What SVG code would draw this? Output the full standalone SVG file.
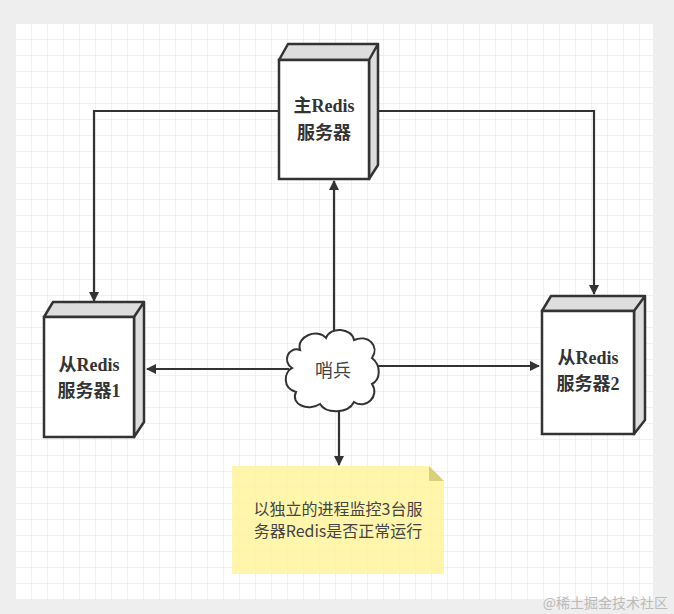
<svg xmlns="http://www.w3.org/2000/svg" width="674" height="614" viewBox="0 0 674 614">
<defs>
<pattern id="g" x="16" y="24" width="16" height="16" patternUnits="userSpaceOnUse">
<path d="M16 0V16M0 16H16" fill="none" stroke="#e2e2e2" stroke-width="1"/>
</pattern>
<marker id="a" viewBox="0 0 10 10" refX="9" refY="5" markerWidth="10" markerHeight="10" orient="auto" markerUnits="userSpaceOnUse">
<path d="M0 0L10 5L0 10z" fill="#333"/>
</marker>
</defs>
<style>
.face{fill:#fff;stroke:#333;stroke-width:2.5}
.side{fill:#ddd;stroke:#333;stroke-width:2.5;stroke-linejoin:round}
.lbl{font-family:"Liberation Serif","Noto Sans CJK SC",serif;font-weight:bold;font-size:18px;fill:#333;text-anchor:middle}
.c{fill:none;stroke:#333;stroke-width:2.2;marker-end:url(#a)}
.nt{font-family:"Noto Sans CJK SC",sans-serif;font-size:16px;fill:#444;text-anchor:middle}
</style>
<rect width="674" height="614" fill="#eeeeee"/>
<rect x="16" y="24" width="637" height="576" fill="#fff"/>
<rect x="16" y="24" width="637" height="576" fill="url(#g)"/>
<g id="connectors">
<path class="c" d="M279 111H94V301"/>
<path class="c" d="M369 111H594V294"/>
<path class="c" d="M334 330V181"/>
<path class="c" d="M289 369H147"/>
<path class="c" d="M377 366H539"/>
<path class="c" d="M339 409V465"/>
</g>
<g id="master">
<path class="side" d="M279 60L288 44H378L369 60ZM369 60L378 44V165L369 179Z"/>
<rect class="face" x="279" y="60" width="90" height="119"/>
<text class="lbl" x="324" y="112">主Redis</text>
<text class="lbl" x="324" y="139">服务器</text>
</g>
<g id="slave1">
<path class="side" d="M44 317L53 302H144L134 317ZM134 317L144 302V422L134 437Z"/>
<rect class="face" x="44" y="317" width="90" height="120"/>
<text class="lbl" x="89" y="371">从Redis</text>
<text class="lbl" x="89" y="397">服务器1</text>
</g>
<g id="slave2">
<path class="side" d="M542 311L551 296H645L634 311ZM634 311L645 296V420L634 434Z"/>
<rect class="face" x="542" y="311" width="92" height="123"/>
<text class="lbl" x="588" y="364">从Redis</text>
<text class="lbl" x="588" y="390">服务器2</text>
</g>
<g id="sentinel">
<path d="M300 350C296 336 318 328 326 338C330 326 352 328 354 340C368 334 380 346 372 358C382 366 380 380 372 384C380 396 366 410 354 402C348 414 326 414 320 404C308 412 290 404 296 392C282 388 284 372 292 368C282 362 288 346 300 350Z" fill="#fff" stroke="#333" stroke-width="2"/>
<text x="333" y="377" font-family="Noto Sans CJK SC,sans-serif" font-size="18" fill="#444" text-anchor="middle">哨兵</text>
</g>
<g id="note">
<path d="M232 466H429L444 481V574H232Z" fill="#fff59d" fill-opacity="0.85"/>
<path d="M429 466L444 481H429Z" fill="#d8d07a"/>
<text class="nt" x="338" y="515">以独立的进程监控3台服</text>
<text class="nt" x="338" y="537">务器Redis是否正常运行</text>
</g>
<text x="668" y="608" font-family="Noto Sans CJK SC,sans-serif" font-size="14" fill="#bbb" text-anchor="end">@稀土掘金技术社区</text>
</svg>
